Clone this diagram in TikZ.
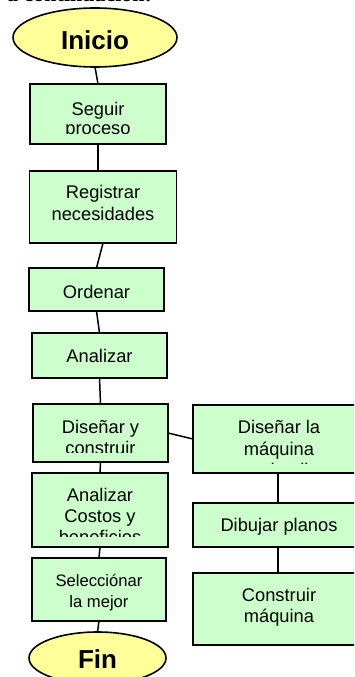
\documentclass[tikz,border=0pt]{standalone}
\usepackage{fontspec}
\setmainfont{Liberation Sans}
\newfontfamily\serifface{Liberation Serif}
\usetikzlibrary{shapes.geometric}
\definecolor{boxgreen}{HTML}{CCFFCC}
\definecolor{ovalyellow}{HTML}{FFFF99}
\begin{document}
\begin{tikzpicture}[x=1pt,y=-1pt,
  procbox/.style={draw=black, line width=1.8pt, fill=boxgreen, rectangle, inner sep=0pt, outer sep=0pt},
  terminal/.style={draw=black, line width=1.6pt, fill=ovalyellow, ellipse, inner sep=0pt, outer sep=0pt},
  lbl/.style={font=\fontsize{18.3}{21}\selectfont, inner sep=0pt, anchor=base},
  lblsmall/.style={font=\fontsize{16.6}{20}\selectfont, inner sep=0pt, anchor=base},
  lblbig/.style={font=\bfseries\fontsize{26}{30}\selectfont, inner sep=0pt, anchor=base},
  link/.style={draw=black, line width=1.5pt}]
\clip (0,0) rectangle (354,677);
\fill[white] (0,0) rectangle (354,677);
% partially visible heading
\node[font=\serifface\bfseries\fontsize{22}{26}\selectfont, inner sep=0pt, anchor=base west] (head) at (7,2) {a continuación:};
% terminals
\node[terminal, minimum width=164pt, minimum height=59pt] (inicio) at (95,37.5) {};
\node[terminal, minimum width=137pt, minimum height=52pt] (fin) at (97.5,658) {};
% left column boxes
\node[procbox, minimum width=136pt, minimum height=60pt] (seguir) at (98,114) {};
\node[procbox, minimum width=147pt, minimum height=72pt] (registrar) at (103,207) {};
\node[procbox, minimum width=135pt, minimum height=43pt] (ordenar) at (96.5,289.5) {};
\node[procbox, minimum width=135pt, minimum height=45pt] (analizar) at (99.5,355.5) {};
\node[procbox, minimum width=135pt, minimum height=58pt] (disenar) at (100.5,433) {};
\node[procbox, minimum width=136pt, minimum height=74pt] (costos) at (100,510) {};
\node[procbox, minimum width=134pt, minimum height=63pt] (selec) at (99,589.5) {};
% right column boxes
\node[procbox, minimum width=170pt, minimum height=68pt] (maquina) at (278,439) {};
\node[procbox, minimum width=170pt, minimum height=44pt] (dibujar) at (278,525) {};
\node[procbox, minimum width=170pt, minimum height=72pt] (construir) at (278,609) {};
% labels
\node[lblbig] (tinicio) at (95,50) {Inicio};
\node[lblbig] (tfin) at (97.5,668) {Fin};
\begin{scope}
  \clip (30,84) rectangle (166,133.5);
  \node[lbl] (tseg1) at (98,115) {Seguir};
  \node[lbl] (tseg2) at (98,134.5) {proceso};
\end{scope}
\node[lbl] (treg1) at (103,198) {Registrar};
\node[lbl] (treg2) at (103,220) {necesidades};
\node[lbl] (tord) at (96.5,298) {Ordenar};
\node[lbl] (tana) at (99.5,362) {Analizar};
\begin{scope}
  \clip (33,404) rectangle (168,452);
  \node[lbl] (tdis1) at (100.5,433) {Diseñar y};
  \node[lbl] (tdis2) at (100.5,454) {construir};
\end{scope}
\begin{scope}
  \clip (32,473) rectangle (168,536);
  \node[lbl] (tcos1) at (100,501.5) {Analizar};
  \node[lbl] (tcos2) at (100,522.5) {Costos y};
  \node[lbl] (tcos3) at (100,543.5) {beneficios};
\end{scope}
\node[lblsmall] (tsel1) at (99,586) {Selecciónar};
\node[lblsmall] (tsel2) at (99,607.5) {la mejor};
\begin{scope}
  \clip (193,405) rectangle (354,463.5);
  \node[lbl] (tmaq1) at (279,433) {Diseñar la};
  \node[lbl] (tmaq2) at (279,455) {máquina};
  \node[lbl] (tmaq3) at (279,476) {en detalle};
\end{scope}
\node[lbl] (tdib) at (279,531.5) {Dibujar planos};
\node[lbl] (tcon1) at (279,601.5) {Construir};
\node[lbl] (tcon2) at (279,622.5) {máquina};
% connectors
\draw[link] (inicio.south) -- (seguir.north);
\draw[link] (seguir.south) -- (seguir.south |- registrar.north);
\draw[link] (registrar.south) -- (ordenar.north);
\draw[link] (ordenar.south) -- (analizar.north);
\draw[link] (analizar.south) -- (disenar.north);
\draw[link] (disenar.south) -- (costos.north);
\draw[link] (costos.south) -- (selec.north);
\draw[link] (selec.south) -- (fin.north);
\draw[link] (disenar.east) -- (maquina.west);
\draw[link] (maquina.south) -- (dibujar.north);
\draw[link] (dibujar.south) -- (construir.north);
\end{tikzpicture}
\end{document}
